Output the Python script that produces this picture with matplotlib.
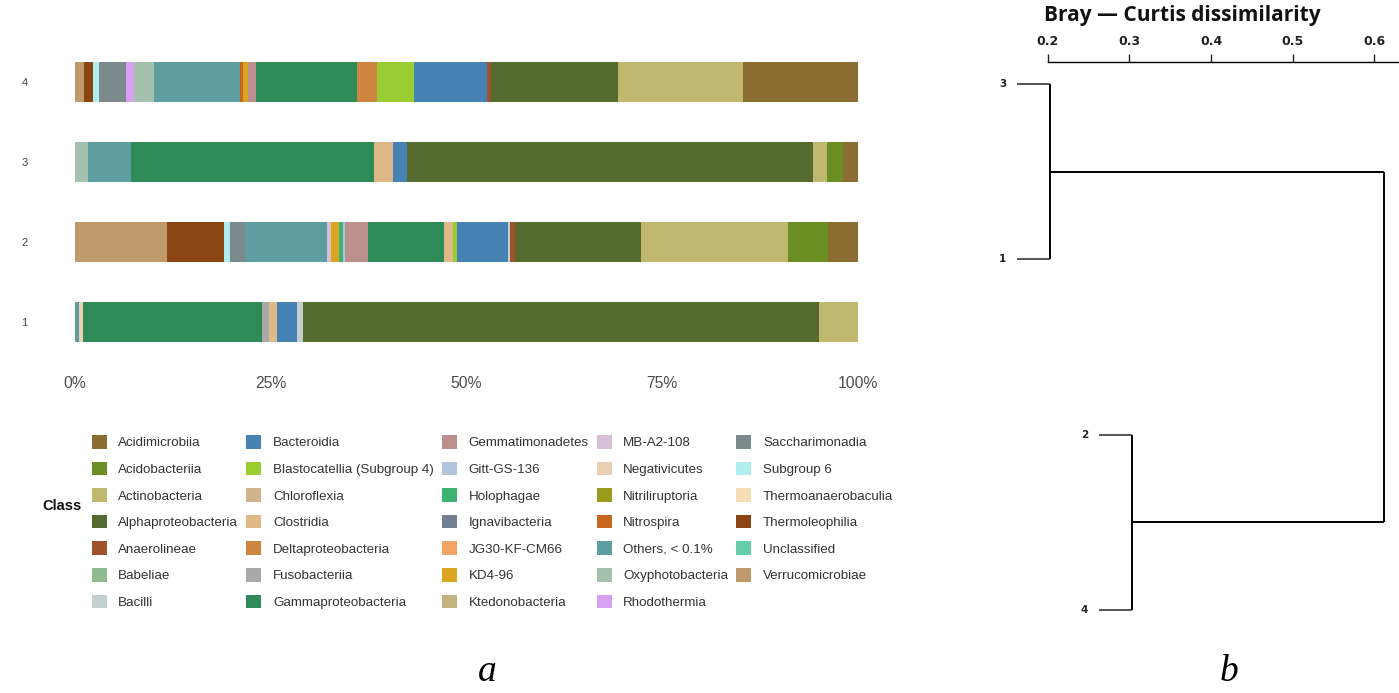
import matplotlib
matplotlib.use('Agg')
import matplotlib.pyplot as plt
from matplotlib.patches import Patch
import numpy as np

W, H = 1399, 693

# ---------------- data ----------------
classes = [
    'Acidimicrobiia', 'Acidobacteriia', 'Actinobacteria', 'Alphaproteobacteria',
    'Anaerolineae', 'Babeliae', 'Bacilli',
    'Bacteroidia', 'Blastocatellia (Subgroup 4)', 'Chloroflexia', 'Clostridia',
    'Deltaproteobacteria', 'Fusobacteriia', 'Gammaproteobacteria',
    'Gemmatimonadetes', 'Gitt-GS-136', 'Holophagae', 'Ignavibacteria',
    'JG30-KF-CM66', 'KD4-96', 'Ktedonobacteria',
    'MB-A2-108', 'Negativicutes', 'Nitriliruptoria', 'Nitrospira',
    'Others, < 0.1%', 'Oxyphotobacteria', 'Rhodothermia',
    'Saccharimonadia', 'Subgroup 6', 'Thermoanaerobaculia', 'Thermoleophilia',
    'Unclassified', 'Verrucomicrobiae',
]
class_colors = [
    '#8C6D31', '#6B8E23', '#BFB86E', '#556B2F',
    '#A0522D', '#8FBC8F', '#C4CFD0',
    '#4682B4', '#9ACD32', '#D2B48C', '#DEB887',
    '#CD853F', '#A9A9A9', '#2E8B57',
    '#BC8F8F', '#B0C4DE', '#3CB371', '#708090',
    '#F4A460', '#DAA520', '#C2B280',
    '#D8BFD8', '#EBCFB2', '#9A9A1E', '#C8661E',
    '#5F9EA0', '#A3C1AD', '#D8A0F0',
    '#7D8A8C', '#AFEEEE', '#F5DEB3', '#8B4513',
    '#66CDAA', '#BF9A6A',
]

samples = ['1', '2', '3', '4']

sample1 = {
    'Others, < 0.1%': 0.55, 'Negativicutes': 0.43, 'Gammaproteobacteria': 22.9,
    'Fusobacteriia': 0.95, 'Clostridia': 1.0, 'Bacteroidia': 2.55, 'Bacilli': 0.7,
    'Alphaproteobacteria': 65.9, 'Actinobacteria': 5.0,
}
sample2 = {
    'Verrucomicrobiae': 11.8, 'Thermoleophilia': 7.25, 'Subgroup 6': 0.7,
    'Saccharimonadia': 2.0, 'Others, < 0.1%': 10.4, 'MB-A2-108': 0.5,
    'KD4-96': 1.1, 'Holophagae': 0.5, 'Gitt-GS-136': 0.2,
    'Gemmatimonadetes': 3.0, 'Gammaproteobacteria': 9.65, 'Clostridia': 1.2,
    'Blastocatellia (Subgroup 4)': 0.5, 'Bacteroidia': 6.5, 'Bacilli': 0.3,
    'Anaerolineae': 0.55, 'Alphaproteobacteria': 16.1, 'Actinobacteria': 18.85,
    'Acidobacteriia': 5.1, 'Acidimicrobiia': 3.8,
}
sample3 = {
    'Oxyphotobacteria': 1.7, 'Others, < 0.1%': 5.5, 'Gammaproteobacteria': 31.0,
    'Clostridia': 2.35, 'Bacteroidia': 1.8, 'Alphaproteobacteria': 51.85,
    'Actinobacteria': 1.85, 'Acidobacteriia': 2.0, 'Acidimicrobiia': 1.95,
}
sample4 = {
    'Verrucomicrobiae': 1.15, 'Thermoleophilia': 1.19, 'Subgroup 6': 0.77,
    'Saccharimonadia': 3.4, 'Rhodothermia': 1.0, 'Oxyphotobacteria': 2.55,
    'Others, < 0.1%': 11.0, 'Nitrospira': 0.43, 'KD4-96': 0.56,
    'Gemmatimonadetes': 1.02, 'Gammaproteobacteria': 13.0,
    'Deltaproteobacteria': 2.5, 'Blastocatellia (Subgroup 4)': 4.7,
    'Bacteroidia': 9.4, 'Anaerolineae': 0.4, 'Alphaproteobacteria': 16.3,
    'Actinobacteria': 15.9, 'Acidimicrobiia': 14.7,
}
sample_data = [sample1, sample2, sample3, sample4]

x_ticks = [0, 25, 50, 75, 100]
x_tick_labels = ['0%', '25%', '50%', '75%', '100%']

# dendrogram (Bray-Curtis)
dendro_leaves = ['3', '1', '2', '4']
merge_children = [(0, 1), (2, 3), (4, 5)]
merge_heights = [0.203, 0.303, 0.612]
leaf_hang = 0.04
dendro_ticks = [0.2, 0.3, 0.4, 0.5, 0.6]

# ---------------- figure ----------------
fig = plt.figure(figsize=(W / 100, H / 100), dpi=100)
fig.patch.set_facecolor('white')


def px_axes(left, top, right, bottom):
    return fig.add_axes([left / W, 1 - bottom / H, (right - left) / W, (bottom - top) / H])


# ----- stacked bars -----
ax = px_axes(75, 42, 858, 362)
ypos = np.arange(len(samples))
lefts = np.zeros(len(samples))
for name, col in zip(classes[::-1], class_colors[::-1]):
    vals = np.array([d.get(name, 0.0) for d in sample_data])
    ax.barh(ypos, vals, left=lefts, height=0.5, color=col, linewidth=0)
    lefts += vals
ax.set_xlim(0, 100)
ax.set_ylim(-0.5, len(samples) - 0.5)
ax.set_yticks(ypos)
ax.set_yticklabels(samples, fontsize=8, color='#444444', family='Liberation Sans')
ax.set_xticks(x_ticks)
ax.set_xticklabels(x_tick_labels, fontsize=11.3, color='#4D4D4D', family='Liberation Sans')
ax.tick_params(axis='x', length=0, pad=10)
ax.tick_params(axis='y', length=0, pad=34)
for s in ax.spines.values():
    s.set_visible(False)

# ----- legend -----
handles = [Patch(facecolor=c, edgecolor='none') for c in class_colors]
fs = 13.4 * 72 / 100
leg = fig.legend(handles, classes, ncol=5, loc='upper left',
                 bbox_to_anchor=(91.7 / W, 1 - 435.0 / H), frameon=False,
                 borderpad=0, borderaxespad=0,
                 prop={'family': 'Liberation Sans', 'size': fs},
                 handlelength=1.12, handleheight=1.2, handletextpad=0.87,
                 columnspacing=0.6, labelspacing=0.91)
for t in leg.get_texts():
    t.set_color('#333333')
fig.text(62 / W, 1 - 506 / H, 'Class', ha='center', va='center',
         fontsize=10.5, fontweight='bold', color='#111111', family='Liberation Sans')

# ----- dendrogram -----
dx = px_axes(990, 62, 1398, 640)
ppu = 816.5
dx.set_xlim(0.2 - (1047.7 - 990) / ppu, 0.2 + (1398 - 1047.7) / ppu)
spacing = 175.2
dx.set_ylim(3 + (640 - 609.9) / spacing, -(84.3 - 62) / spacing)

node_y = {i: float(i) for i in range(len(dendro_leaves))}
node_h = {}
for i, (a, b) in enumerate(merge_children):
    nid = len(dendro_leaves) + i
    h = merge_heights[i]
    for c in (a, b):
        if c < len(dendro_leaves):
            dx.plot([h - leaf_hang, h], [node_y[c], node_y[c]], color='#555555', lw=1.4,
                    solid_capstyle='butt')
            dx.annotate(dendro_leaves[c], (h - leaf_hang, node_y[c]), xytext=(-8, 0),
                        textcoords='offset points', ha='right', va='center',
                        fontsize=7.5, fontweight='bold', color='#222222')
        else:
            dx.plot([node_h[c], h], [node_y[c], node_y[c]], color='black', lw=1.4,
                    solid_capstyle='butt')
    dx.plot([h, h], [node_y[a], node_y[b]], color='black', lw=1.4, solid_capstyle='butt')
    node_y[nid] = (node_y[a] + node_y[b]) / 2
    node_h[nid] = h

dx.xaxis.tick_top()
dx.set_xticks(dendro_ticks)
dx.set_xticklabels(['%.1f' % t for t in dendro_ticks], fontsize=9, fontweight='bold',
                   color='#222222')
dx.tick_params(axis='x', direction='out', length=6, width=1, pad=4, colors='#222222')
dx.set_yticks([])
for k, s in dx.spines.items():
    s.set_visible(k == 'top')
dx.spines['top'].set_bounds(0.2, dx.get_xlim()[1])
dx.spines['top'].set_linewidth(1)
dx.patch.set_alpha(0)

fig.text(1182.5 / W, 1 - 16 / H, 'Bray \u2014 Curtis dissimilarity', ha='center',
         va='center', fontsize=15, fontweight='bold', family='Open Sans', color='#111111')

# panel letters
fig.text(487 / W, 1 - 672 / H, 'a', ha='center', va='center', fontsize=27,
         style='italic', family='Liberation Serif')
fig.text(1229 / W, 1 - 672 / H, 'b', ha='center', va='center', fontsize=27,
         style='italic', family='Liberation Serif')

fig.savefig('out.png', dpi=100, facecolor='white')
